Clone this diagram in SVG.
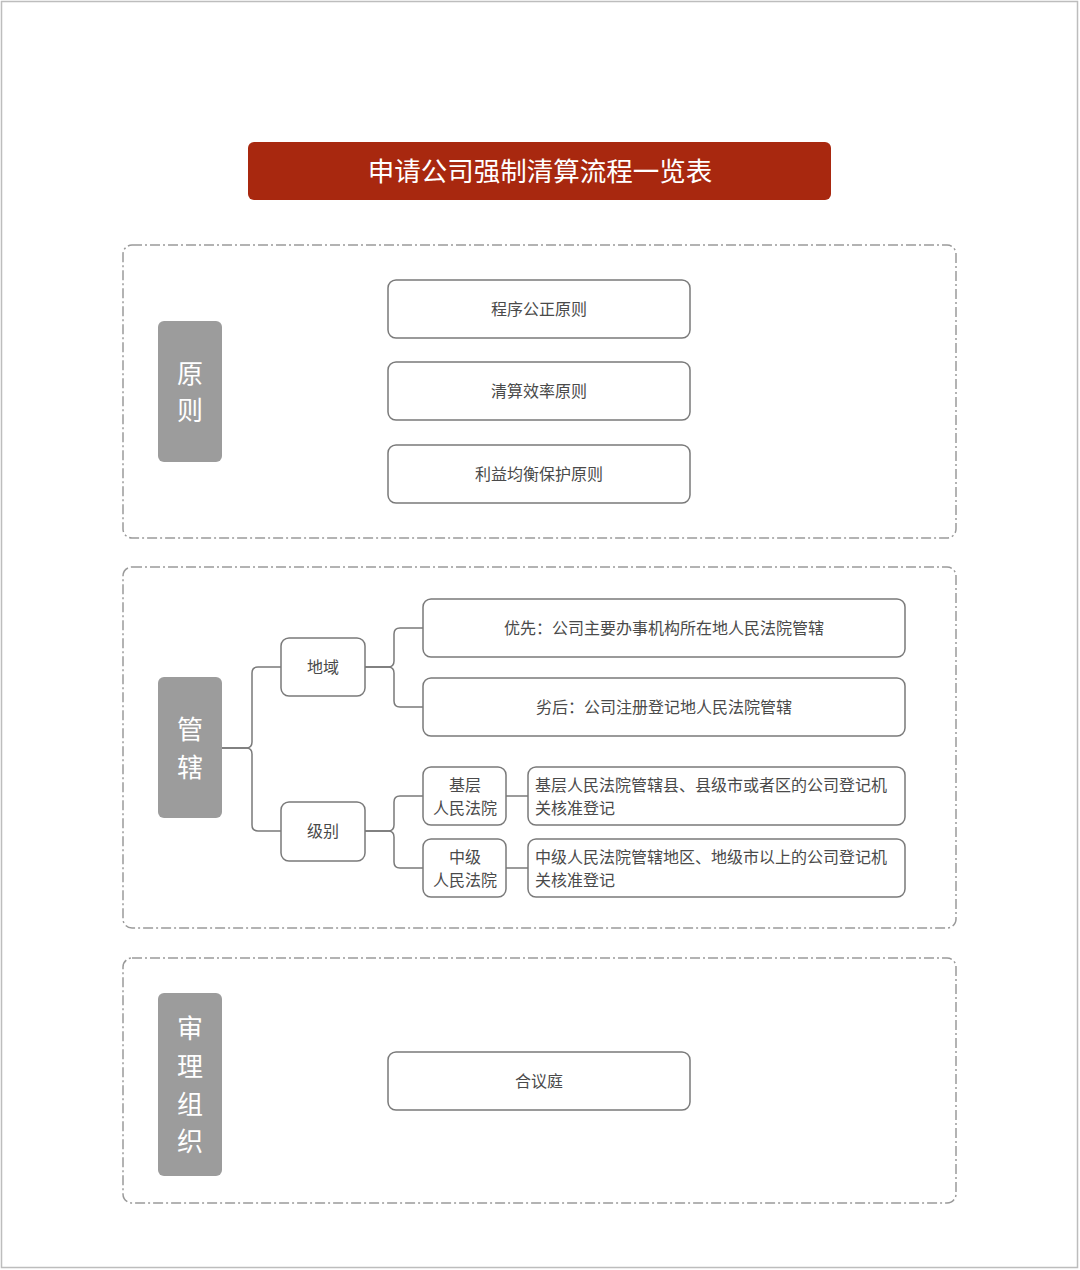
<svg xmlns="http://www.w3.org/2000/svg" width="1080" height="1270" viewBox="0 0 1080 1270">
<style>
text{font-family:"Noto Sans CJK SC","Noto Sans",sans-serif}
.frame{fill:none;stroke:#9a9a9a;stroke-width:1.5;stroke-dasharray:10 3 2 3}
.lab{fill:#9c9c9c}
.labt{fill:#fff;font-size:26px;text-anchor:middle}
.box{fill:#fff;stroke:#7a7a7a;stroke-width:1.5}
.bt{fill:#4a4a4a;font-size:16px;text-anchor:middle}
.bl{fill:#4a4a4a;font-size:16px}
.con{fill:none;stroke:#7a7a7a;stroke-width:1.5}
</style>
<rect x="0" y="0" width="1080" height="1270" fill="#fff"/>
<rect x="1.5" y="1.5" width="1076" height="1266" fill="none" stroke="#bdbdbd" stroke-width="1.5"/>
<g id="title">
<rect x="248" y="142" width="583" height="58" rx="6" fill="#a8280f"/>
<text x="540" y="181" fill="#fff" font-size="26.5" text-anchor="middle">申请公司强制清算流程一览表</text>
</g>
<g id="sec1">
<rect class="frame" x="123" y="245" width="833" height="293" rx="9"/>
</g>
<g id="sec2">
<rect class="frame" x="123" y="567" width="833" height="361" rx="9"/>
</g>
<g id="sec3">
<rect class="frame" x="123" y="958" width="833" height="245" rx="9"/>
</g>
<g id="connectors">
<path class="con" d="M222 748 H246 Q252 748 252 742 V673 Q252 667 258 667 H281"/>
<path class="con" d="M222 748 H246 Q252 748 252 754 V825 Q252 831 258 831 H281"/>
<path class="con" d="M365 667 H388 Q394 667 394 661 V634 Q394 628 400 628 H423"/>
<path class="con" d="M365 667 H388 Q394 667 394 673 V701 Q394 707 400 707 H423"/>
<path class="con" d="M365 831 H388 Q394 831 394 825 V802 Q394 796 400 796 H423"/>
<path class="con" d="M365 831 H388 Q394 831 394 837 V862 Q394 868 400 868 H423"/>
<path class="con" d="M506 796 H528"/>
<path class="con" d="M506 868 H528"/>
</g>
<g id="n-yuanze">
<rect class="lab" x="158" y="321" width="64" height="141" rx="6"/>
<text class="labt" x="190" y="383">原</text>
<text class="labt" x="190" y="420">则</text>
</g>
<g id="n-p1">
<rect class="box" x="388" y="280" width="302" height="58" rx="8"/>
<text class="bt" x="539" y="315">程序公正原则</text>
</g>
<g id="n-p2">
<rect class="box" x="388" y="362" width="302" height="58" rx="8"/>
<text class="bt" x="539" y="397">清算效率原则</text>
</g>
<g id="n-p3">
<rect class="box" x="388" y="445" width="302" height="58" rx="8"/>
<text class="bt" x="539" y="480">利益均衡保护原则</text>
</g>
<g id="n-guanxia">
<rect class="lab" x="158" y="677" width="64" height="141" rx="6"/>
<text class="labt" x="190" y="739">管</text>
<text class="labt" x="190" y="777">辖</text>
</g>
<g id="n-diyu">
<rect class="box" x="281" y="638" width="84" height="58" rx="8"/>
<text class="bt" x="323" y="673">地域</text>
</g>
<g id="n-jibie">
<rect class="box" x="281" y="802" width="84" height="59" rx="8"/>
<text class="bt" x="323" y="837">级别</text>
</g>
<g id="n-youxian">
<rect class="box" x="423" y="599" width="482" height="58" rx="8"/>
<text class="bt" x="664" y="634">优先：公司主要办事机构所在地人民法院管辖</text>
</g>
<g id="n-liehou">
<rect class="box" x="423" y="678" width="482" height="58" rx="8"/>
<text class="bt" x="664" y="713">劣后：公司注册登记地人民法院管辖</text>
</g>
<g id="n-jiceng">
<rect class="box" x="423" y="767" width="83" height="58" rx="8"/>
<text class="bt" x="465" y="791">基层</text>
<text class="bt" x="465" y="814">人民法院</text>
</g>
<g id="n-zhongji">
<rect class="box" x="423" y="839" width="83" height="58" rx="8"/>
<text class="bt" x="465" y="863">中级</text>
<text class="bt" x="465" y="886">人民法院</text>
</g>
<g id="n-jiceng-d">
<rect class="box" x="528" y="767" width="377" height="58" rx="8"/>
<text class="bl" x="535" y="791">基层人民法院管辖县、县级市或者区的公司登记机</text>
<text class="bl" x="535" y="814">关核准登记</text>
</g>
<g id="n-zhongji-d">
<rect class="box" x="528" y="839" width="377" height="58" rx="8"/>
<text class="bl" x="535" y="863">中级人民法院管辖地区、地级市以上的公司登记机</text>
<text class="bl" x="535" y="886">关核准登记</text>
</g>
<g id="n-shenli">
<rect class="lab" x="158" y="993" width="64" height="183" rx="6"/>
<text class="labt" x="190" y="1038">审</text>
<text class="labt" x="190" y="1076">理</text>
<text class="labt" x="190" y="1114">组</text>
<text class="labt" x="190" y="1151">织</text>
</g>
<g id="n-heyiting">
<rect class="box" x="388" y="1052" width="302" height="58" rx="8"/>
<text class="bt" x="539" y="1087">合议庭</text>
</g>
</svg>
